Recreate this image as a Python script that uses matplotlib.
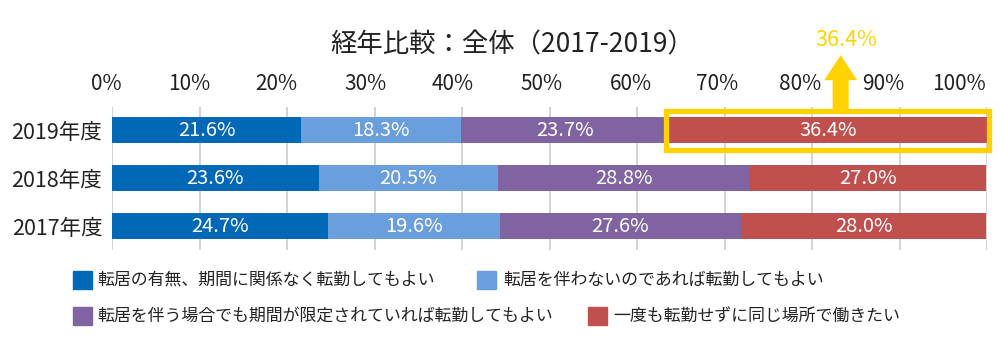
import matplotlib
matplotlib.use("Agg")
import matplotlib.pyplot as plt
from matplotlib.patches import Rectangle, FancyArrow
from matplotlib.transforms import ScaledTranslation

plt.rcParams['font.family'] = ['Noto Sans CJK JP', 'DejaVu Sans']

# ---- data ----
years = ["2019年度", "2018年度", "2017年度"]
categories = [
    "転居の有無、期間に関係なく転勤してもよい",
    "転居を伴わないのであれば転勤してもよい",
    "転居を伴う場合でも期間が限定されていれば転勤してもよい",
    "一度も転勤せずに同じ場所で働きたい",
]
any_transfer = [21.6, 23.6, 24.7]
no_relocation = [18.3, 20.5, 19.6]
limited_period = [23.7, 28.8, 27.6]
never_transfer = [36.4, 27.0, 28.0]
series = [any_transfer, no_relocation, limited_period, never_transfer]
colors = ["#0068B7", "#6A9EDC", "#8064A2", "#C0504D"]
ticks = list(range(0, 101, 10))
tick_labels = [f"{t}%" for t in ticks]
title = "経年比較：全体（2017-2019）"

# horizontal nudge of each top tick label (pixels)
label_shift_px = [-6, -10.5, -11, -9.5, -9, -8, -6, -7, -11.5, -16, -27.5]

W, H = 1000, 346
fig = plt.figure(figsize=(W / 100, H / 100), dpi=100)
ax = fig.add_axes([112 / W, 1 - 250 / H, 875 / W, 143 / H])

rows = list(range(len(years)))
bar_h = 26 / 48
left = [0.0] * len(years)
for vals, col in zip(series, colors):
    ax.barh(rows, vals, left=left, height=bar_h, color=col, zorder=2)
    for r, v, l in zip(rows, vals, left):
        ax.text(l + v / 2, r, f"{v:.1f}%", ha="center", va="center",
                color="white", fontsize=14.5, zorder=3)
    left = [l + v for l, v in zip(left, vals)]

ax.set_xlim(0, 100)
ax.set_ylim(2.5, -0.48)
ax.set_xticks(ticks)
ax.set_xticklabels(tick_labels, fontsize=15, color="#222222")
ax.xaxis.tick_top()
ax.tick_params(axis="x", length=0, pad=8.7)
for lab, dx in zip(ax.get_xticklabels(), label_shift_px):
    lab.set_transform(lab.get_transform() +
                      ScaledTranslation(dx / 100, 0, fig.dpi_scale_trans))
ax.set_yticks(rows)
ax.set_yticklabels(years, fontsize=15.5, color="#222222")
ax.tick_params(axis="y", length=0, pad=7)
ax.grid(axis="x", color="#C8C8C8", linewidth=1.1, zorder=0)
ax.set_axisbelow(True)
for s in ax.spines.values():
    s.set_visible(False)

# highlight the latest "never transfer" share
hl = "#FFD200"
red_start = any_transfer[0] + no_relocation[0] + limited_period[0]
box_l, box_r = red_start - 0.3, 100.25
ax.add_patch(Rectangle((box_l, -0.40), box_r - box_l, 0.81, fill=False,
                       edgecolor=hl, linewidth=3.8, zorder=4, clip_on=False))
arrow_x = (box_l + box_r) / 2 + 1.5
ax.add_patch(FancyArrow(arrow_x, -0.44, 0, -1.12, width=16 / 8.75,
                        head_width=33 / 8.75, head_length=25 / 48,
                        length_includes_head=True, color=hl, linewidth=0,
                        zorder=4, clip_on=False))
ax.text(arrow_x + 0.6, -1.88, f"{never_transfer[0]:.1f}%", ha="center",
        va="center", color=hl, fontsize=15.5, clip_on=False)

fig.text(512 / W, 1 - 45 / H, title, ha="center", va="center",
         fontsize=19, color="#222222")

# legend
legend_items = [
    (73, 97, 279.5, 0),
    (477, 503, 279.5, 1),
    (73, 97, 316, 2),
    (588, 613, 316, 3),
]
for sx, tx, cy, i in legend_items:
    fig.patches.append(Rectangle((sx / W, 1 - (cy + 9) / H), 19 / W, 18 / H,
                                 transform=fig.transFigure, color=colors[i]))
    fig.text(tx / W, 1 - cy / H, categories[i], ha="left", va="center",
             fontsize=12.2, color="#222222")

fig.savefig("out.png", dpi=100)
